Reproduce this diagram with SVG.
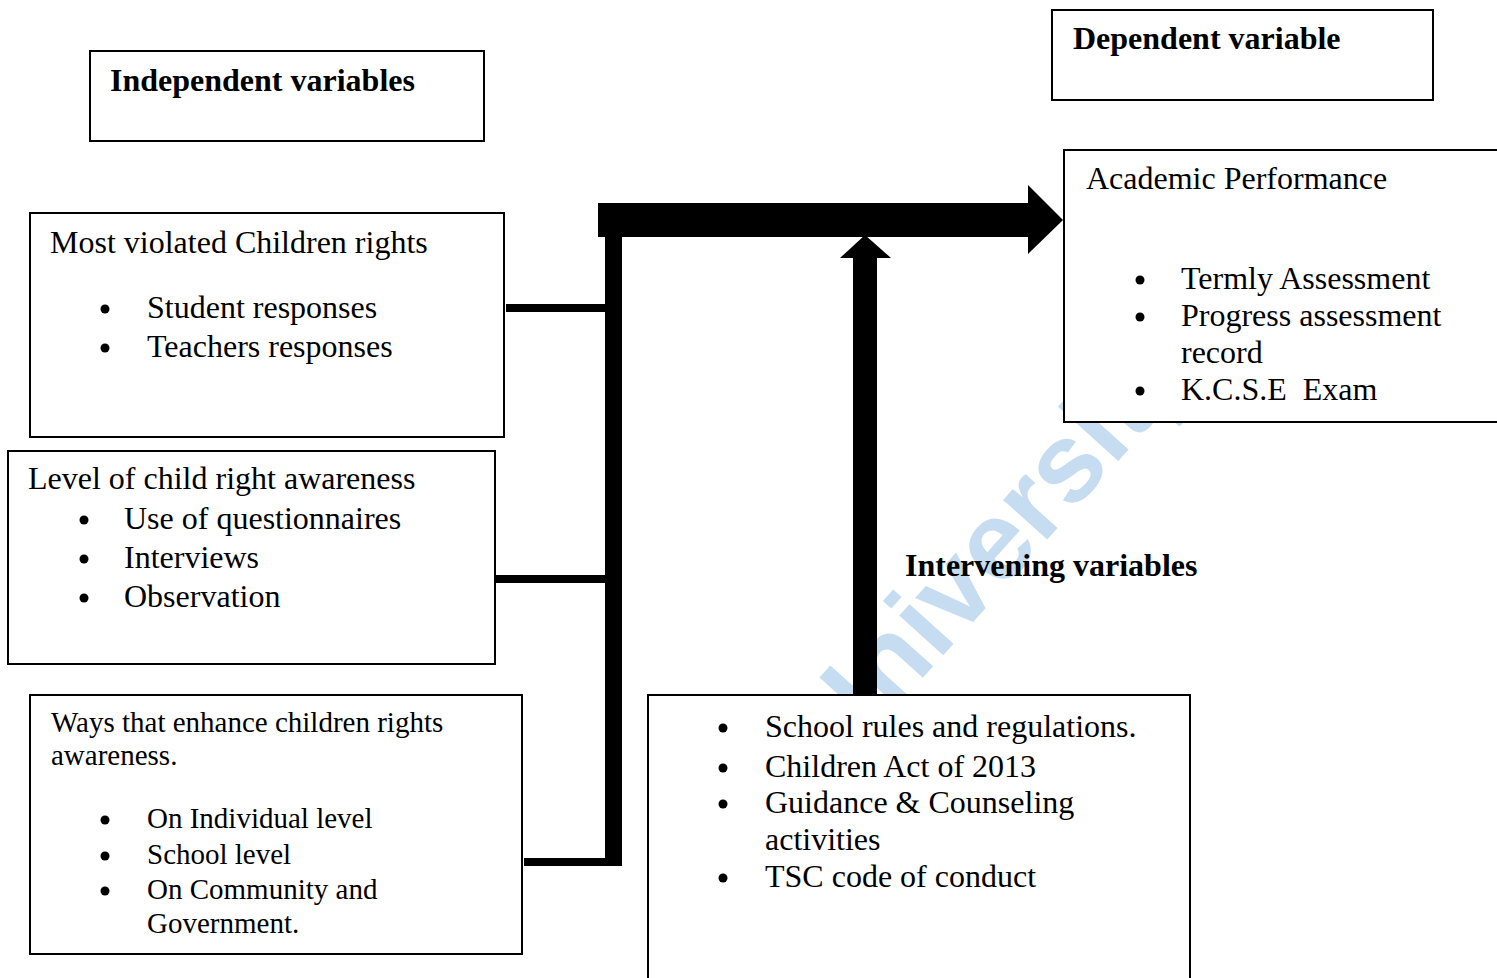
<svg xmlns="http://www.w3.org/2000/svg" width="1497" height="978" viewBox="0 0 1497 978">
<style>
  .box { fill: #ffffff; stroke: #000000; stroke-width: 2; }
  .t { font-family: "Liberation Serif", "Times New Roman", serif; font-size: 32px; fill: #000; }
  .s { font-size: 29px; }
  .b { font-weight: bold; }
  .bul { fill: #000; }
  .wm { font-family: "Liberation Sans", Arial, sans-serif; font-weight: bold; font-size: 112px; fill: #c6dcf1; }
</style>
<rect x="0" y="0" width="1497" height="978" fill="#ffffff"/>
<text class="wm" transform="translate(838,772) rotate(-48)">University</text>

<g id="independent-label">
  <rect class="box" x="90" y="51" width="394" height="90"/>
  <text class="t b" x="110" y="91">Independent variables</text>
</g>
<g id="dependent-label">
  <rect class="box" x="1052" y="10" width="381" height="90"/>
  <text class="t b" x="1073" y="49">Dependent variable</text>
</g>
<g id="academic-performance">
  <rect class="box" x="1064" y="150" width="440" height="272"/>
  <text class="t" x="1086" y="189">Academic Performance</text>
  <circle class="bul" cx="1140" cy="280" r="4.5"/>
  <text class="t" x="1181" y="289">Termly Assessment</text>
  <circle class="bul" cx="1140" cy="317" r="4.5"/>
  <text class="t" x="1181" y="326">Progress assessment</text>
  <text class="t" x="1181" y="363">record</text>
  <circle class="bul" cx="1140" cy="391" r="4.5"/>
  <text class="t" x="1181" y="400">K.C.S.E&#160; Exam</text>
</g>
<g id="most-violated">
  <rect class="box" x="30" y="213" width="474" height="224"/>
  <text class="t" x="50" y="253">Most violated Children rights</text>
  <circle class="bul" cx="105" cy="309" r="4.5"/>
  <text class="t" x="147" y="318">Student responses</text>
  <circle class="bul" cx="105" cy="348" r="4.5"/>
  <text class="t" x="147" y="357">Teachers responses</text>
</g>
<g id="awareness-level">
  <rect class="box" x="8" y="451" width="487" height="213"/>
  <text class="t" x="28" y="489">Level of child right awareness</text>
  <circle class="bul" cx="84" cy="520" r="4.5"/>
  <text class="t" x="124" y="529">Use of questionnaires</text>
  <circle class="bul" cx="84" cy="559" r="4.5"/>
  <text class="t" x="124" y="568">Interviews</text>
  <circle class="bul" cx="84" cy="598" r="4.5"/>
  <text class="t" x="124" y="607">Observation</text>
</g>
<g id="ways-enhance">
  <rect class="box" x="30" y="695" width="492" height="259"/>
  <text class="t s" x="51" y="732">Ways that enhance children rights</text>
  <text class="t s" x="51" y="765">awareness.</text>
  <circle class="bul" cx="105" cy="820" r="4.5"/>
  <text class="t s" x="147" y="828">On Individual level</text>
  <circle class="bul" cx="105" cy="856" r="4.5"/>
  <text class="t s" x="147" y="864">School level</text>
  <circle class="bul" cx="105" cy="891" r="4.5"/>
  <text class="t s" x="147" y="899">On Community and</text>
  <text class="t s" x="147" y="933">Government.</text>
</g>
<g id="intervening">
  <rect class="box" x="648" y="695" width="542" height="300"/>
  <circle class="bul" cx="723" cy="728" r="4.5"/>
  <text class="t" x="765" y="737">School rules and regulations.</text>
  <circle class="bul" cx="723" cy="768" r="4.5"/>
  <text class="t" x="765" y="777">Children Act of 2013</text>
  <circle class="bul" cx="723" cy="804" r="4.5"/>
  <text class="t" x="765" y="813">Guidance &amp; Counseling</text>
  <text class="t" x="765" y="850">activities</text>
  <circle class="bul" cx="723" cy="878" r="4.5"/>
  <text class="t" x="765" y="887">TSC code of conduct</text>
</g>
<g id="intervening-label">
  <text class="t b" x="905" y="576">Intervening variables</text>
</g>

<g id="connectors" fill="#000">
  <rect x="506" y="304" width="102" height="8"/>
  <rect x="495" y="575" width="113" height="8"/>
  <rect x="524" y="858" width="84" height="8"/>
  <rect x="605" y="230" width="17" height="636"/>
  <rect x="598" y="203" width="432" height="34"/>
  <polygon points="1028,185 1063,220 1028,254"/>
  <rect x="853" y="256" width="24" height="440"/>
  <polygon points="840,258 865,235 891,258"/>
</g>
</svg>
